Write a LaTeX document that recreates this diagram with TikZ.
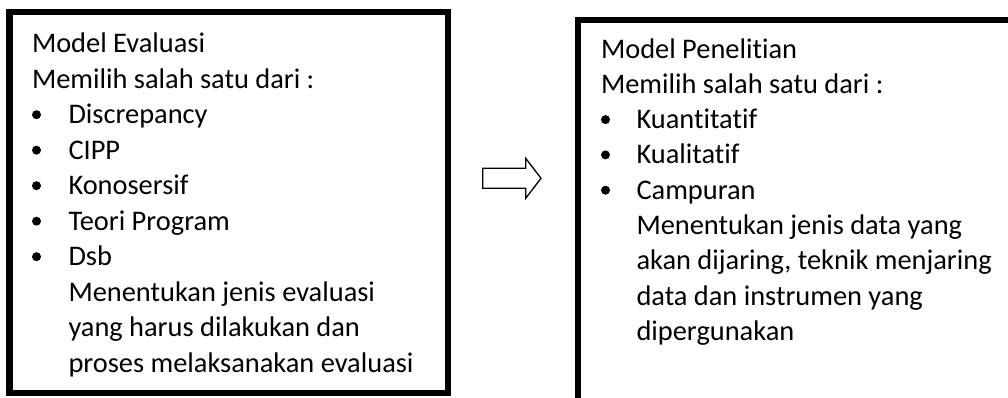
\documentclass[tikz,border=0pt]{standalone}
\usepackage{fontspec}
\setmainfont{Carlito}[RawFeature={-liga;-clig}]
\begin{document}
\begin{tikzpicture}[x=1pt,y=-1pt,
  box/.style={draw=black,line width=6.3pt,rectangle,inner sep=0pt},
  txt/.style={anchor=base west,inner sep=0pt,outer sep=0pt,font=\fontsize{28.4}{35.4}\selectfont},
  bul/.style={circle,fill=black,inner sep=0pt,minimum size=9pt},
  blockarrow/.style={draw=black,line width=1.3pt,line join=miter,fill=white}]
\useasboundingbox (0,0) rectangle (1008,397);
\clip (0,0) rectangle (1008,397);
\fill[white] (0,0) rectangle (1008,397);
% boxes
\node[box,minimum width=438.5pt,minimum height=381pt] (boxL) at (228.75,202.5) {};
\node[box,minimum width=460pt,minimum height=420pt] (boxR) at (808,230) {};
% left texts
\node[txt] (l1) at (32,52.7) {Model Evaluasi};
\node[txt] (l2) at (32,88.2) {Memilih salah satu dari :};
\node[txt] (l3) at (68.5,123.7) {Discrepancy};
\node[txt] (l4) at (68.5,159.2) {CIPP};
\node[txt] (l5) at (68.5,194.7) {Konosersif};
\node[txt] (l6) at (68.5,230.2) {Teori Program};
\node[txt] (l7) at (68.5,265.7) {Dsb};
\node[txt] (l8) at (68.5,301.2) {Menentukan jenis evaluasi};
\node[txt] (l9) at (68.5,336.7) {yang harus dilakukan dan};
\node[txt] (l10) at (68.5,372.2) {proses melaksanakan evaluasi};
\foreach \n/\y in {b3/123.7,b4/159.2,b5/194.7,b6/230.2,b7/265.7}
  \node[bul] (\n) at (36.5,\y-9) {};
% arrow
\draw[blockarrow] (482.7,168.3) -- (525.7,168.3) -- (525.7,158.3) -- (541,178.3)
  -- (525.7,198.3) -- (525.7,188.3) -- (482.7,188.3) -- cycle;
% right texts
\node[txt] (r1) at (601,58) {Model Penelitian};
\node[txt] (r2) at (601,93.3) {Memilih salah satu dari :};
\node[txt] (r3) at (636.5,128.6) {Kuantitatif};
\node[txt] (r4) at (636.5,163.9) {Kualitatif};
\node[txt] (r5) at (636.5,199.2) {Campuran};
\node[txt] (r6) at (636.5,234.5) {Menentukan jenis data yang};
\node[txt] (r7) at (636.5,269.8) {akan dijaring, teknik menjaring};
\node[txt] (r8) at (636.5,305.1) {data dan instrumen yang};
\node[txt] (r9) at (636.5,340.4) {dipergunakan};
\foreach \n/\y in {c3/128.6,c4/163.9,c5/199.2}
  \node[bul] (\n) at (605.5,\y-9) {};
\end{tikzpicture}
\end{document}
